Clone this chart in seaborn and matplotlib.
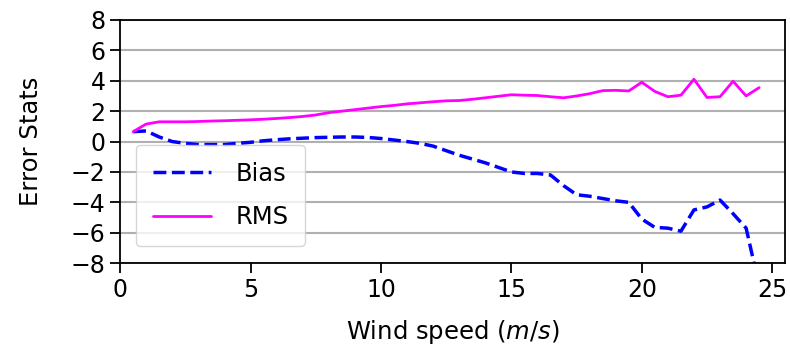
import numpy as np
import pandas as pd
import seaborn as sns
import matplotlib
matplotlib.use("Agg")
import matplotlib.pyplot as plt

wind = [0.5, 1.0, 1.5, 2.0, 2.5, 3.0, 3.5, 4.0, 4.5, 5.0,
        5.5, 6.0, 6.5, 7.0, 7.5, 8.0, 8.5, 9.0, 9.5, 10.0,
        10.5, 11.0, 11.5, 12.0, 12.5, 13.0, 13.5, 14.0, 14.5, 15.0,
        15.5, 16.0, 16.5, 17.0, 17.5, 18.0, 18.5, 19.0, 19.5, 20.0,
        20.5, 21.0, 21.5, 22.0, 22.5, 23.0, 23.5, 24.0, 24.5]

bias = [0.65, 0.7, 0.3, 0.0, -0.12, -0.2, -0.2, -0.2, -0.12, -0.05,
        0.05, 0.12, 0.18, 0.22, 0.26, 0.28, 0.3, 0.3, 0.27, 0.2,
        0.1, 0.0, -0.12, -0.3, -0.6, -0.9, -1.15, -1.4, -1.7, -2.0,
        -2.1, -2.1, -2.2, -2.9, -3.5, -3.6, -3.75, -3.9, -4.0, -5.1,
        -5.65, -5.7, -5.9, -4.5, -4.3, -3.85, -4.75, -5.7, -9.5]

rms = [0.65, 1.15, 1.3, 1.3, 1.3, 1.32, 1.35, 1.37, 1.4, 1.43,
       1.47, 1.52, 1.58, 1.65, 1.75, 1.9, 2.0, 2.1, 2.2, 2.3,
       2.38, 2.48, 2.55, 2.62, 2.68, 2.7, 2.78, 2.88, 2.98, 3.08,
       3.05, 3.03, 2.95, 2.88, 3.0, 3.15, 3.35, 3.37, 3.33, 3.9,
       3.3, 2.95, 3.05, 4.1, 2.9, 2.95, 3.97, 3.0, 3.55]

df = pd.DataFrame({"wind": wind, "Bias": bias, "RMS": rms})

sns.set_style("ticks")
plt.rcParams["font.family"] = ["DejaVu Sans"]
plt.rcParams["text.color"] = "black"
plt.rcParams["axes.labelcolor"] = "black"
plt.rcParams["xtick.color"] = "black"
plt.rcParams["ytick.color"] = "black"

fig = plt.figure(figsize=(7.9, 3.57), dpi=100)
ax = fig.add_axes([0.152, 0.263, 0.842, 0.681])

sns.lineplot(data=df, x="wind", y="Bias", ax=ax, color="#0000ff",
             linestyle="--", dashes=(4.2, 2.0), linewidth=2.5, label="Bias")
sns.lineplot(data=df, x="wind", y="RMS", ax=ax, color="#ff00ff",
             linewidth=2, label="RMS")

ax.set_xlim(0, 25.5)
ax.set_ylim(-8, 8)
ax.set_yticks(np.arange(-8, 9, 2))
ax.set_xticks([0, 5, 10, 15, 20, 25])
ax.yaxis.grid(True, color="#b0b0b0", linewidth=1.5)
ax.set_axisbelow(True)
for s in ax.spines.values():
    s.set_visible(True)
    s.set_color("black")
    s.set_linewidth(1.3)
ax.tick_params(labelsize=17, length=7, width=1.3, color="black")
ax.set_xlabel("Wind speed ($m/s$)", fontsize=17.5, labelpad=12)
ax.set_ylabel("Error Stats", fontsize=17.5, labelpad=20)
ax.legend(loc="lower left", fontsize=17.5, bbox_to_anchor=(0.005, 0.02),
          handlelength=2.4, labelspacing=0.8, borderpad=0.7,
          handletextpad=1.0)

fig.savefig("out.png", dpi=100)
